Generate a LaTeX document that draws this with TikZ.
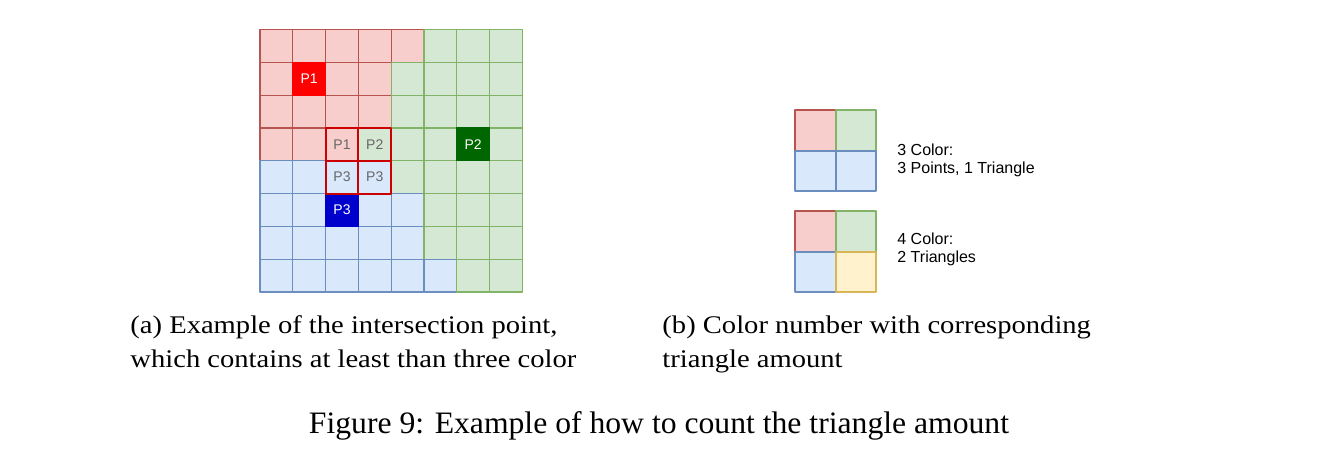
\documentclass[tikz,border=0pt]{standalone}
\usepackage{fontspec}
\setmainfont{Liberation Serif}
\newfontfamily\helv{Liberation Sans}
\definecolor{redfill}{HTML}{F8CECC}
\definecolor{redline}{HTML}{B85450}
\definecolor{greenfill}{HTML}{D5E8D4}
\definecolor{greenline}{HTML}{82B366}
\definecolor{bluefill}{HTML}{DAE8FC}
\definecolor{blueline}{HTML}{6C8EBF}
\definecolor{yellowfill}{HTML}{FFF2CC}
\definecolor{yellowline}{HTML}{D6B656}
\definecolor{solidred}{HTML}{FF0000}
\definecolor{solidgreen}{HTML}{006600}
\definecolor{solidblue}{HTML}{0000CC}
\definecolor{markred}{HTML}{CC0000}
\tikzset{
  cellR/.style={fill=redfill, draw=redline},
  cellG/.style={fill=greenfill, draw=greenline},
  cellB/.style={fill=bluefill, draw=blueline},
  cellY/.style={fill=yellowfill, draw=yellowline},
  solidcell/.style={minimum size=16.4pt, inner sep=0pt, draw=#1, fill=#1, text=white},
  markcell/.style={minimum size=16.4pt, inner sep=0pt, draw=markred, line width=1pt, text=black!60},
  keytext/.style={font=\helv\fontsize{8}{9.25}\selectfont, align=left, inner sep=0pt},
  subcap/.style={font=\fontsize{12.7}{16.9}\selectfont, align=left, inner sep=0pt, transform shape, xscale=1.125}
}
\begin{document}
\begin{tikzpicture}[x=0.5pt, y=-0.5pt, line join=round, font=\helv\fontsize{7}{8}\selectfont]
	\useasboundingbox (0,0) rectangle (1342,472);
	% (a) the 8x8 grid
	\begin{scope}[shift={(260,29.5)}, x=16.4pt, y=-16.4pt, line width=0.6pt]
		\foreach \r/\row in {0/{R,R,R,R,R,G,G,G}, 1/{R,R,R,R,G,G,G,G}, 2/{R,R,R,R,G,G,G,G}, 3/{R,R,R,G,G,G,G,G},
			4/{B,B,B,B,G,G,G,G}, 5/{B,B,B,B,B,G,G,G}, 6/{B,B,B,B,B,G,G,G}, 7/{B,B,B,B,B,B,G,G}}
			\foreach \k [count=\c from 0] in \row
				\draw[cell\k] (\c,\r) rectangle ++(1,1);
		\node[solidcell=solidred] (sp1) at (1.5,1.5) {P1};
		\node[solidcell=solidgreen] (sp2) at (6.5,3.5) {P2};
		\node[solidcell=solidblue] (sp3) at (2.5,5.5) {P3};
		\node[markcell] (mp1) at (2.5,3.5) {P1}; \node[markcell] (mp2) at (3.5,3.5) {P2};
		\node[markcell] (mp3a) at (2.5,4.5) {P3}; \node[markcell] (mp3b) at (3.5,4.5) {P3};
	\end{scope}
	% (b) the two 2x2 keys
	\foreach \top/\last in {110/B, 211/Y}{
		\begin{scope}[shift={(795,\top)}, x=20.3pt, y=-20.3pt, line width=1pt]
			\draw[cellR] (0,0) rectangle (1,1); \draw[cellG] (1,0) rectangle (2,1);
			\draw[cellB] (0,1) rectangle (1,2); \draw[cell\last] (1,1) rectangle (2,2);
		\end{scope}}
	\node (three) [keytext, anchor=north west] at (897,143) {3 Color:\\3 Points, 1 Triangle};
	\node (four) [keytext, anchor=north west] at (897,232) {4 Color:\\2 Triangles};
	% captions
	\node (capa) [subcap, anchor=base west] at (130,367) {(a) Example of the intersection point,\\which contains at least than three color};
	\node (capb) [subcap, anchor=base west] at (662,367) {(b) Color number with corresponding\\triangle amount};
	\node (fig) [font=\fontsize{15.6}{18}\selectfont, transform shape, xscale=1.015, anchor=base] at (659,433) {Figure 9: Example of how to count the triangle amount};
\end{tikzpicture}
\end{document}
